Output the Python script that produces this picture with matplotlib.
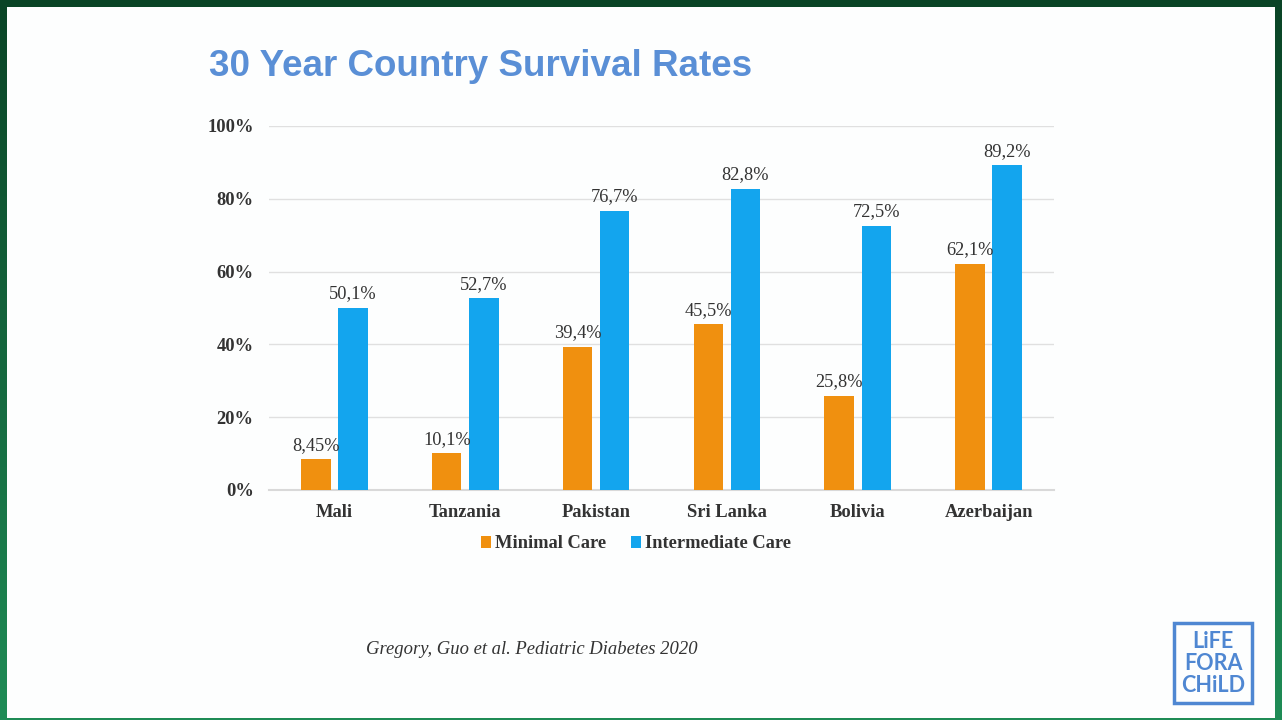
import numpy as np
import matplotlib
matplotlib.use("Agg")
import matplotlib.pyplot as plt
from matplotlib.patches import Rectangle

# --- data ---
countries = ["Mali", "Tanzania", "Pakistan", "Sri Lanka", "Bolivia", "Azerbaijan"]
minimal_care = [8.45, 10.1, 39.4, 45.5, 25.8, 62.1]
intermediate_care = [50.1, 52.7, 76.7, 82.8, 72.5, 89.2]
y_ticks = [0, 20, 40, 60, 80, 100]
series_names = ["Minimal Care", "Intermediate Care"]
colors = ["#F0900F", "#13A5EE"]

W, H = 1282, 720
fig = plt.figure(figsize=(W / 100, H / 100), dpi=100)

# --- green frame + white slide ---
bg = fig.add_axes([0, 0, 1, 1], zorder=-10)
grad = np.linspace(0, 1, 256).reshape(-1, 1)
bg.imshow(grad, aspect="auto", extent=[0, 1, 0, 1], origin="upper",
          cmap=matplotlib.colors.LinearSegmentedColormap.from_list(
              "g", ["#0A4426", "#15673E", "#1F8C56"]))
bg.add_patch(Rectangle((7 / W, 1 - 718 / H), (1275 - 7) / W, (718 - 7) / H,
                       facecolor="#FDFEFE", edgecolor="none"))
bg.set_xlim(0, 1)
bg.set_ylim(0, 1)
bg.axis("off")

# --- title ---
fig.text(209 / W, 1 - 66 / H, "30 Year Country Survival Rates", fontsize=26.5,
         fontweight="bold", family="Liberation Sans", color="#5A8FD6",
         ha="left", va="center")

# --- chart ---
ax = fig.add_axes([269 / W, 1 - 490 / H, (1054 - 269) / W, (490 - 126) / H])
ax.set_facecolor("none")
x = np.arange(len(countries))
width = 0.225
offset = 0.142
serif = "Liberation Serif"
txt = "#333333"

for i, (vals, color) in enumerate(zip([minimal_care, intermediate_care], colors)):
    pos = x + (offset if i else -offset)
    ax.bar(pos, vals, width=width, color=color, label=series_names[i], zorder=3)
    for px, v in zip(pos, vals):
        ax.annotate(f"{v:g}".replace(".", ",") + "%", (px, v),
                    xytext=(0, 4), textcoords="offset points",
                    ha="center", va="bottom", fontsize=13.2, family=serif,
                    color=txt, zorder=4)

ax.set_xlim(-0.5, len(countries) - 0.5)
ax.set_ylim(0, 100)
ax.set_yticks(y_ticks)
ax.set_yticklabels([f"{t}%" for t in y_ticks], fontsize=13.3, fontweight="bold",
                   family=serif, color=txt)
ax.set_xticks(x)
ax.set_xticklabels(countries, fontsize=13.3, fontweight="bold", family=serif,
                   color=txt)
ax.tick_params(axis="both", length=0)
ax.tick_params(axis="y", pad=11)
ax.tick_params(axis="x", pad=10)
ax.grid(axis="y", color="#E0E0E0", linewidth=1, zorder=0)
for s in ["top", "right", "left"]:
    ax.spines[s].set_visible(False)
ax.spines["bottom"].set_color("#D9D9D9")
ax.spines["bottom"].set_linewidth(1.5)

ax.legend(loc="center", bbox_to_anchor=(636 / W, 1 - 544 / H),
          bbox_transform=fig.transFigure, ncol=2, frameon=False,
          prop={"family": serif, "weight": "bold", "size": 13.3},
          labelcolor=txt, handlelength=0.55, handleheight=0.55,
          handletextpad=0.25, columnspacing=1.3)

# --- citation ---
fig.text(366 / W, 1 - 649 / H, "Gregory, Guo et al. Pediatric Diabetes 2020",
         fontsize=13.4, style="italic", family=serif, color=txt,
         ha="left", va="center")

# --- logo ---
logo_color = "#4F87D2"
bg.add_patch(Rectangle((1174 / W, 1 - 703 / H), (1252 - 1174) / W, (703 - 623) / H,
                       facecolor="none", edgecolor=logo_color, linewidth=2.5))
for k, line in enumerate(["LiFE", "FORA", "CHiLD"]):
    fig.text(1213 / W, 1 - (641 + k * 22) / H, line, fontsize=15.5,
             fontweight="bold", family="Lato", color=logo_color,
             ha="center", va="center")

fig.savefig("out.png", dpi=100)
